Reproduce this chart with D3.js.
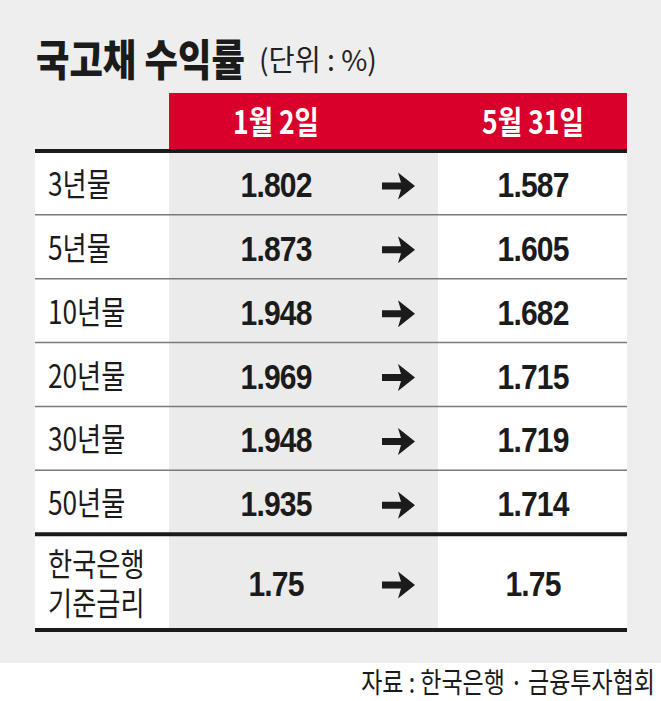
<!DOCTYPE html>
<html><head><meta charset="utf-8">
<script src="https://cdn.jsdelivr.net/npm/d3@7"></script>
<style>
html,body{margin:0;padding:0;background:#fff;}
svg{display:block;}
</style></head>
<body>
<script>
// ---- data ----
const title = "국고채 수익률";
const unit = "(단위 : %)";
const headers = ["1월 2일", "5월 31일"];
const categories = ["3년물", "5년물", "10년물", "20년물", "30년물", "50년물", "한국은행\n기준금리"];
const jan2 = [1.802, 1.873, 1.948, 1.969, 1.948, 1.935, 1.75];
const may31 = [1.587, 1.605, 1.682, 1.715, 1.719, 1.714, 1.75];
const decimals = [3, 3, 3, 3, 3, 3, 2];
const source = "자료 : 한국은행 · 금융투자협회";

// ---- layout ----
const W = 661, H = 701;
const KR = "'Noto Sans CJK KR','Noto Sans',sans-serif";
const NUM = "'Liberation Sans',Arial,sans-serif";
const red = "#d9002b", bg = "#eeeeee", colGray = "#ebebeb", ink = "#1b1b1b";

const svg = d3.select("body").append("svg").attr("width", W).attr("height", H);
svg.append("rect").attr("width", W).attr("height", 663).attr("fill", bg);

const left = 35, right = 627, c1 = 169, c2 = 438;
const rowUnits = categories.map((d, i) => i === categories.length - 1 ? 1.5 : 1);
const cum = [0]; rowUnits.forEach(u => cum.push(cum[cum.length - 1] + u));
const y = d3.scaleLinear().domain([0, cum[cum.length - 1]]).range([151, 630]);
const xc = d3.scaleOrdinal().domain(["jan", "arrow", "may"]).range([276, 398, 533]);

// text placed in a horizontally-scaled group; width = target width (or k * natural)
function fitText(parent, x, y0, txt, opts) {
  const g = parent.append("g");
  const t = g.append("text").attr("x", 0).attr("y", 0)
    .attr("text-anchor", opts.anchor || "start")
    .attr("font-family", opts.family).attr("font-weight", opts.weight)
    .attr("font-size", opts.size).attr("fill", opts.fill || ink)
    .attr("letter-spacing", opts.ls || 0).text(txt);
  const L = t.node().getComputedTextLength();
  const k = opts.width ? opts.width / L : opts.k;
  g.attr("transform", `translate(${x},${y0}) scale(${k},1)`);
  return g;
}

// title
fitText(svg, 36, 76, title, { family: KR, weight: 900, size: 43, width: 209 });
fitText(svg, 259, 71, unit, { family: KR, weight: 400, size: 29, width: 118, fill: "#222" });

// header
const hdrW = [86, 102];
svg.append("rect").attr("x", c1).attr("y", 93).attr("width", right - c1).attr("height", 57).attr("fill", red);
headers.forEach((h, i) => fitText(svg, xc(i === 0 ? "jan" : "may"), 134, h,
  { family: KR, weight: 700, size: 32, width: hdrW[i], anchor: "middle", fill: "#fff" }));

// body cells
const bodyTop = y(0), bodyBot = y(cum[cum.length - 1]);
svg.append("rect").attr("x", left).attr("y", bodyTop).attr("width", c1 - left).attr("height", bodyBot - bodyTop).attr("fill", "#fff");
svg.append("rect").attr("x", c1).attr("y", bodyTop).attr("width", c2 - c1).attr("height", bodyBot - bodyTop).attr("fill", colGray);
svg.append("rect").attr("x", c2).attr("y", bodyTop).attr("width", right - c2).attr("height", bodyBot - bodyTop).attr("fill", "#fff");

// row lines
const inner = cum.slice(1, -1);
svg.selectAll("line.row").data(inner).join("line").attr("class", "row")
  .attr("x1", left).attr("x2", right).attr("y1", d => y(d)).attr("y2", d => y(d))
  .attr("stroke", (d, i) => i === inner.length - 1 ? ink : "#7a7a7a")
  .attr("stroke-width", (d, i) => i === inner.length - 1 ? 4 : 1.5);
[y(0), bodyBot].forEach(v => svg.append("line").attr("x1", left).attr("x2", right)
  .attr("y1", v).attr("y2", v).attr("stroke", ink).attr("stroke-width", 4));

// rows
const rows = svg.selectAll("g.r").data(categories).join("g").attr("class", "r")
  .attr("transform", (d, i) => `translate(0,${y((cum[i] + cum[i + 1]) / 2)})`);

rows.each(function (d, i) {
  const g = d3.select(this);
  const lines = d.split("\n");
  const lh = 39;
  lines.forEach((t, j) => {
    fitText(g, 48, 13 + (j - (lines.length - 1) / 2) * lh, t,
      { family: KR, weight: 400, size: 32, k: 0.82 });
  });
  const fmt = d3.format("." + decimals[i] + "f");
  [["jan", jan2[i]], ["may", may31[i]]].forEach(([k, v]) => {
    fitText(g, xc(k), 14, fmt(v),
      { family: NUM, weight: 700, size: 35, k: 0.86, anchor: "middle", ls: -1 });
  });
  // arrow
  const ax = xc("arrow");
  g.append("path").attr("transform", `translate(${ax},3)`)
    .attr("d", "M-16,-3.5 L3,-3.5 L0,-13.5 L17,0 L0,13.5 L3,3.5 L-16,3.5 Z")
    .attr("fill", ink);
});

// source
fitText(svg, 655, 693, source, { family: KR, weight: 400, size: 28, width: 294, anchor: "end" });
</script>
</body></html>
